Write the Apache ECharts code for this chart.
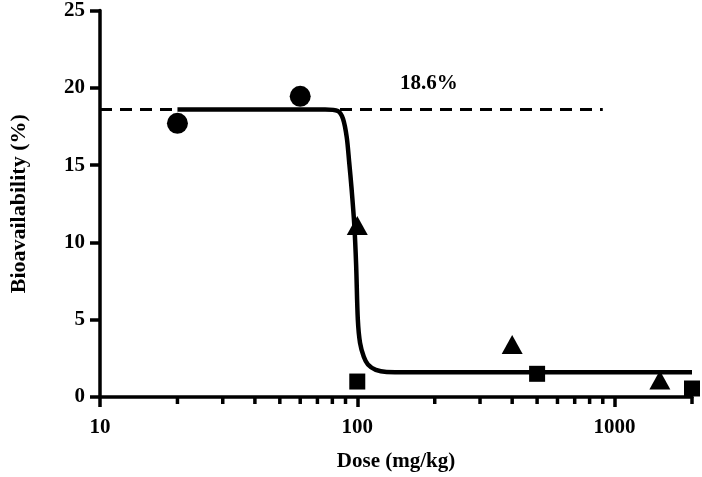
<!DOCTYPE html>
<html>
<head>
<meta charset="utf-8">
<script src="https://cdn.jsdelivr.net/npm/echarts@6/dist/echarts.min.js"></script>
<style>html,body{margin:0;padding:0;background:#fff}#c{width:702px;height:477px}</style>
</head>
<body>
<div id="c"></div>
<script>
// Data
var circleDose = [20, 60];
var circleBio = [17.7, 19.45];
var triangleDose = [100, 400, 1500];
var triangleBio = [11.1, 3.4, 1.1];
var squareDose = [100, 500, 2000];
var squareBio = [1.0, 1.5, 0.55];
// fitted curve
var curveDose = [20, 50, 75, 84, 88, 91, 93, 95, 97.4, 99, 100.5, 102.5, 106, 110, 118, 130, 200, 500, 1000, 2000];
var curveBio = [18.6, 18.6, 18.6, 18.5, 18.0, 16.8, 15.2, 13.5, 11.1, 8.5, 5.0, 3.5, 2.6, 2.1, 1.75, 1.62, 1.6, 1.6, 1.6, 1.6];
var refDose = [10, 900];
var refBio = [18.6, 18.6];
var refLabel = '18.6%';
var refLabelPos = [190, 20.25];
var majorTickLabels = [10, 100, 1000];
var minorTickDose = [20, 30, 40, 50, 60, 70, 80, 90, 200, 300, 400, 500, 600, 700, 800, 900, 2000];

function zip(a, b) { return a.map(function (v, i) { return [v, b[i]]; }); }

var font = 'Liberation Serif';
var fs = 21;
var chart = echarts.init(document.getElementById('c'), null, {renderer: 'canvas'});
chart.setOption({
  animation: false,
  backgroundColor: '#fff',
  grid: {left: 93, right: 10, top: 6, bottom: 71, containLabel: false},
  xAxis: {
    type: 'log', logBase: 10, min: 10, max: 2000,
    name: 'Dose (mg/kg)', nameLocation: 'middle', nameGap: 54,
    nameTextStyle: {fontFamily: font, fontWeight: 'bold', fontSize: fs, color: '#000'},
    axisLine: {lineStyle: {color: '#000', width: 3.5}},
    axisTick: {show: true, length: 10, lineStyle: {color: '#000', width: 3.5}},
    minorTick: {show: false},
    splitLine: {show: false},
    axisLabel: {
      fontFamily: font, fontWeight: 'bold', fontSize: fs, color: '#000', margin: 20,
      showMaxLabel: false,
      formatter: function (v) { return majorTickLabels.indexOf(Math.round(v)) >= 0 ? String(Math.round(v)) : ''; }
    }
  },
  yAxis: {
    type: 'value', min: 0, max: 25, interval: 5,
    name: 'Bioavailability (%)', nameLocation: 'middle', nameGap: 70,
    nameTextStyle: {fontFamily: font, fontWeight: 'bold', fontSize: 22, color: '#000'},
    axisLine: {show: true, lineStyle: {color: '#000', width: 3.5}},
    axisTick: {show: true, length: 10, lineStyle: {color: '#000', width: 3.5}},
    splitLine: {show: false},
    axisLabel: {fontFamily: font, fontWeight: 'bold', fontSize: fs, color: '#000', margin: 15}
  },
  series: [
    {
      type: 'custom', silent: true, clip: false,
      data: minorTickDose.map(function (d) { return [d, 0]; }),
      renderItem: function (params, api) {
        var p = api.coord([api.value(0), 0]);
        return {type: 'line', shape: {x1: p[0], y1: p[1], x2: p[0], y2: p[1] + 7},
          style: {stroke: '#000', lineWidth: 3.5}};
      },
      z: 1
    },
    {
      type: 'line', data: zip(refDose, refBio), symbol: 'none', silent: true,
      lineStyle: {color: '#000', width: 3, type: [12, 8], opacity: 1}, z: 2
    },
    {
      type: 'line', data: zip(curveDose, curveBio), symbol: 'none', smooth: 0.3, silent: true,
      lineStyle: {color: '#000', width: 4.5, opacity: 1}, z: 3
    },
    {
      type: 'scatter', data: zip(circleDose, circleBio), symbol: 'circle', symbolSize: 21,
      itemStyle: {color: '#000', opacity: 1}, z: 4
    },
    {
      type: 'scatter', data: zip(triangleDose, triangleBio), symbol: 'triangle', symbolSize: [21, 19],
      itemStyle: {color: '#000', opacity: 1}, z: 4
    },
    {
      type: 'scatter', data: zip(squareDose, squareBio), symbol: 'rect', symbolSize: 16,
      itemStyle: {color: '#000', opacity: 1}, z: 4
    },
    {
      type: 'scatter', data: [refLabelPos], symbolSize: 1, silent: true,
      itemStyle: {color: 'rgba(0,0,0,0)', opacity: 1},
      label: {show: true, position: 'inside', formatter: refLabel,
        fontFamily: font, fontWeight: 'bold', fontSize: fs, color: '#000', opacity: 1},
      z: 5
    }
  ]
});
</script>
</body>
</html>
